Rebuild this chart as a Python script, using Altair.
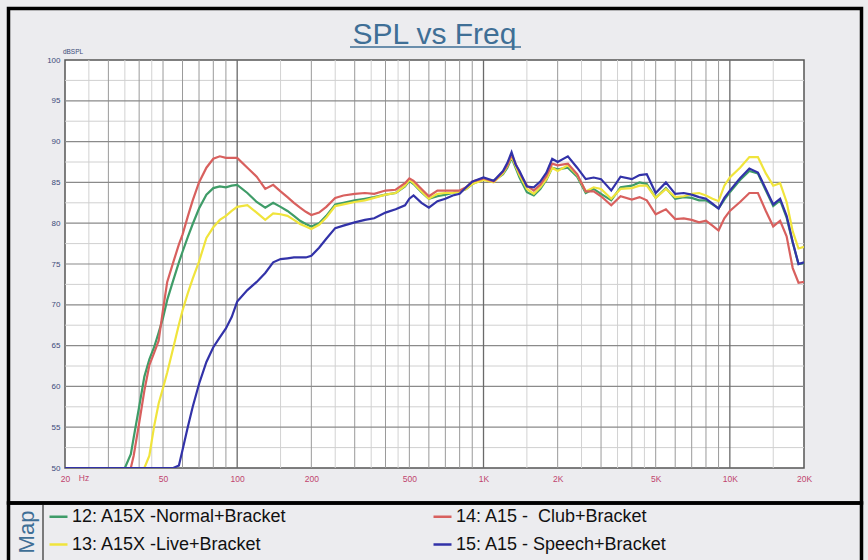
import altair as alt
import pandas as pd

# ---------------- data ----------------
freq = [20, 35, 37, 38, 40, 42, 44, 46, 48, 50,
        52, 55, 58, 60, 63, 66, 70, 75, 80, 85,
        90, 95, 100, 110, 120, 130, 140, 150, 160, 170,
        180, 190, 200, 215, 230, 250, 270, 300, 330, 360,
        400, 440, 480, 500, 520, 560, 600, 650, 700, 750,
        800, 850, 900, 1000, 1100, 1200, 1250, 1300, 1350, 1400,
        1500, 1600, 1700, 1800, 1900, 2000, 2200, 2400, 2600, 2800,
        3000, 3300, 3600, 4000, 4300, 4600, 5000, 5500, 6000, 6500,
        7000, 7500, 8000, 8500, 9000, 9500, 10000, 11000, 12000, 13000,
        14000, 15000, 16000, 17000, 18000, 19000, 20000]

spl_12_normal = [50, 50, 51.7, 53.7, 57.5, 61.2, 63.3, 64.8, 66.6, 68.4,
                 70.6, 73.0, 75.2, 76.5, 78.3, 79.9, 81.8, 83.5, 84.3, 84.5,
                 84.4, 84.6, 84.7, 83.7, 82.6, 81.9, 82.5, 82.0, 81.5, 80.9,
                 80.3, 79.9, 79.6, 80.0, 80.9, 82.3, 82.5, 82.8, 83.0, 83.2,
                 83.5, 83.7, 84.5, 85.2, 84.8, 83.8, 83.0, 83.3, 83.5, 83.7,
                 83.9, 84.2, 84.8, 85.4, 85.2, 86.0, 86.8, 88.0, 86.8, 85.6,
                 83.8, 83.4, 84.2, 85.3, 86.8, 86.6, 86.8, 85.7, 83.7, 84.2,
                 83.6, 82.8, 84.4, 84.6, 85.0, 84.8, 83.1, 84.3, 83.0, 83.2,
                 83.1, 82.8, 82.8, 82.3, 81.8, 82.9, 83.8, 85.3, 86.4, 86.1,
                 84.0, 82.1, 82.8, 80.7, 77.6, 75.0, 75.1]

spl_13_live = [50, 50, 50, 50, 50, 50, 51.5, 55.1, 57.9, 59.8,
               61.7, 64.7, 67.6, 69.3, 71.4, 73.2, 75.3, 78.2, 79.5, 80.4,
               80.9, 81.5, 82.0, 82.2, 81.3, 80.4, 81.2, 81.1, 80.9, 80.4,
               79.9, 79.6, 79.3, 79.8, 80.7, 82.1, 82.3, 82.6, 82.8, 83.1,
               83.5, 83.7, 84.6, 85.3, 84.9, 83.9, 83.0, 83.6, 83.7, 83.7,
               83.9, 84.2, 84.8, 85.3, 85.0, 86.1, 87.0, 88.2, 87.0, 85.9,
               84.2, 83.6, 84.4, 85.4, 86.8, 86.4, 87.1, 85.9, 83.9, 84.4,
               84.2, 83.0, 84.2, 84.3, 84.6, 84.6, 83.1, 84.2, 83.2, 83.3,
               83.6, 83.7, 83.4, 83.0, 82.7, 84.6, 85.6, 86.8, 88.1, 88.1,
               86.1, 84.6, 84.9, 82.6, 79.0, 76.9, 77.1]

spl_14_club = [50, 50, 50, 51.5, 55.5, 59.5, 62.6, 64.1, 65.6, 69.4,
               72.8, 75.2, 77.4, 78.6, 80.8, 82.8, 85.0, 86.8, 87.9, 88.2,
               88.0, 88.0, 88.0, 86.8, 85.7, 84.2, 84.7, 83.9, 83.2, 82.5,
               81.9, 81.4, 81.0, 81.3, 82.0, 83.1, 83.4, 83.6, 83.7, 83.6,
               84.0, 84.1, 84.9, 85.5, 85.2, 84.2, 83.3, 84.0, 84.0, 84.0,
               84.0, 84.4, 85.1, 85.5, 85.1, 86.3, 87.1, 88.4, 87.3, 86.2,
               84.6, 84.0, 84.7, 85.8, 87.3, 87.1, 87.3, 86.0, 83.9, 83.9,
               83.3, 82.2, 83.3, 82.9, 83.2, 82.8, 81.1, 81.7, 80.5, 80.6,
               80.4, 80.1, 80.3, 79.7, 79.1, 80.6, 81.5, 82.6, 83.7, 83.7,
               81.5, 79.6, 80.3, 78.4, 74.5, 72.7, 72.8]

spl_15_speech = [50, 50, 50, 50, 50, 50, 50, 50, 50, 50,
                 50, 50, 50.3, 52.2, 55.0, 57.5, 60.3, 63.0, 64.8, 66.0,
                 67.1, 68.5, 70.4, 71.8, 72.8, 73.9, 75.2, 75.6, 75.7, 75.8,
                 75.8, 75.8, 76.0, 77.0, 78.1, 79.4, 79.7, 80.1, 80.4, 80.6,
                 81.3, 81.7, 82.2, 83.0, 83.4, 82.5, 81.9, 82.7, 83.0, 83.4,
                 83.6, 84.4, 85.1, 85.6, 85.2, 86.4, 87.4, 88.7, 87.2, 86.4,
                 84.5, 84.4, 85.1, 86.2, 87.9, 87.5, 88.2, 86.8, 85.4, 85.6,
                 85.4, 84.0, 85.7, 85.4, 85.9, 86.0, 83.7, 85.0, 83.6, 83.7,
                 83.5, 83.2, 83.0, 82.4, 81.8, 83.1, 84.0, 85.5, 86.7, 86.2,
                 84.2, 82.3, 83.0, 80.9, 77.7, 75.0, 75.2]

series_names = ["12: A15X -Normal+Bracket", "13: A15X -Live+Bracket",
                "14: A15 - \u00a0Club+Bracket", "15: A15 - Speech+Bracket"]
series_colors = ["#3f9c68", "#f0e43c", "#d8605e", "#3232a8"]
series_values = [spl_12_normal, spl_13_live, spl_14_club, spl_15_speech]

x_tick_values = [20, 50, 100, 200, 500, 1000, 2000, 5000, 10000, 20000]
y_tick_values = [50, 55, 60, 65, 70, 75, 80, 85, 90, 95, 100]

grid_x_decade = [100, 1000, 10000]
grid_x_major = [30, 40, 50, 60, 70, 80, 90, 200, 300, 400, 500, 600, 700, 800, 900,
                2000, 3000, 4000, 5000, 6000, 7000, 8000, 9000]
grid_x_minor = [25, 35, 45, 150, 250, 350, 450, 1500, 2500, 3500, 4500, 15000]
grid_y_major = [55, 60, 65, 70, 75, 80, 85, 90, 95]
grid_y_minor = [52.5, 57.5, 62.5, 67.5, 72.5, 77.5, 82.5, 87.5, 92.5, 97.5]

# ---------------- chart ----------------
W, H = 739, 408
TITLE_BLUE = "#3f6f96"
FONT = "Liberation Sans"

xscale = alt.Scale(type="log", domain=[20, 20000], nice=False)
yscale = alt.Scale(domain=[50, 100], nice=False, zero=False)

xaxis = alt.Axis(values=x_tick_values, title=None, grid=False, ticks=False, domain=False,
                 labelExpr="datum.value >= 1000 ? (datum.value / 1000) + 'K' : datum.label",
                 labelFontSize=8.5, labelColor="#c0446e", labelFont=FONT, labelPadding=6,
                 labelFlush=False)
yaxis = alt.Axis(values=y_tick_values, title=None, grid=False, ticks=False, domain=False,
                 labelFontSize=8, labelColor="#3b4a7a", labelFont=FONT, labelPadding=5)

# legend is laid out column by column: (12, 13) then (14, 15)
legend = alt.Legend(orient="none", legendX=-17, legendY=446, columns=2, columnPadding=141,
                    rowPadding=8, symbolType="stroke", symbolSize=324, symbolStrokeWidth=2.5,
                    labelFontSize=18, labelFont=FONT, labelColor="#111111", labelLimit=400,
                    title=None, gridAlign="all", labelOffset=3, padding=0,
                    values=series_names)

cscale = alt.Scale(domain=series_names, range=series_colors)

one = pd.DataFrame({"a": [0]})


def vrules(vals, color, width):
    return alt.Chart(pd.DataFrame({"v": vals})).mark_rule(color=color, strokeWidth=width).encode(
        x=alt.X("v:Q", scale=xscale, axis=xaxis))


def hrules(vals, color, width):
    return alt.Chart(pd.DataFrame({"v": vals})).mark_rule(color=color, strokeWidth=width).encode(
        y=alt.Y("v:Q", scale=yscale, axis=yaxis))


layers = [
    vrules(grid_x_minor, "#d2d2d2", 1),
    hrules(grid_y_minor, "#d0d0d0", 1),
    vrules(grid_x_major, "#9a9a9a", 1),
    hrules(grid_y_major, "#8a8a8a", 1.2),
    vrules(grid_x_decade, "#6a6a6a", 1.3),
]

for name, vals in zip(series_names, series_values):
    df = pd.DataFrame({"freq": freq, "spl": vals, "series": name})
    layers.append(
        alt.Chart(df).mark_line(clip=True, strokeWidth=2.2).encode(
            x=alt.X("freq:Q", scale=xscale, axis=xaxis),
            y=alt.Y("spl:Q", scale=yscale, axis=yaxis),
            color=alt.Color("series:N", scale=cscale, legend=legend),
        )
    )

# decorations
layers += [
    alt.Chart(one).mark_text(text="SPL vs Freq", fontSize=30, font=FONT, color=TITLE_BLUE,
                             align="center", baseline="alphabetic").encode(
        x=alt.value(369.5), y=alt.value(-16)),
    alt.Chart(one).mark_rule(color=TITLE_BLUE, strokeWidth=1.5).encode(
        x=alt.value(285), x2=alt.value(456), y=alt.value(-13)),
    alt.Chart(one).mark_text(text="Hz", fontSize=8.5, font=FONT, color="#c0446e").encode(
        x=alt.value(19), y=alt.value(418)),
    alt.Chart(one).mark_text(text="dBSPL", fontSize=6.5, font=FONT, color="#3b4a7a").encode(
        x=alt.value(8), y=alt.value(-8)),
    alt.Chart(one).mark_rect(fillOpacity=0, stroke="black", strokeWidth=3.5).encode(
        x=alt.value(-56.5), x2=alt.value(796.5), y=alt.value(-51.5), y2=alt.value(443)),
    alt.Chart(one).mark_rect(fillOpacity=0, stroke="black", strokeWidth=3.5).encode(
        x=alt.value(-56.5), x2=alt.value(796.5), y=alt.value(443), y2=alt.value(520)),
    alt.Chart(one).mark_rule(color="#555555", strokeWidth=1.5).encode(
        x=alt.value(-22), y=alt.value(445), y2=alt.value(500)),
    alt.Chart(one).mark_text(text="Map", fontSize=22, font=FONT, color=TITLE_BLUE,
                             angle=270, align="center", baseline="middle").encode(
        x=alt.value(-38), y=alt.value(472)),
]

chart = alt.layer(*layers).properties(
    width=W, height=H,
    autosize=alt.AutoSizeParams(type="none"),
    padding={"left": 65, "top": 60, "right": 64, "bottom": 92},
    background="#ececef",
).configure_view(stroke="#555555", strokeWidth=1.5, fill="white")

chart.save("out.html", embed_options={"renderer": "svg", "actions": False})
